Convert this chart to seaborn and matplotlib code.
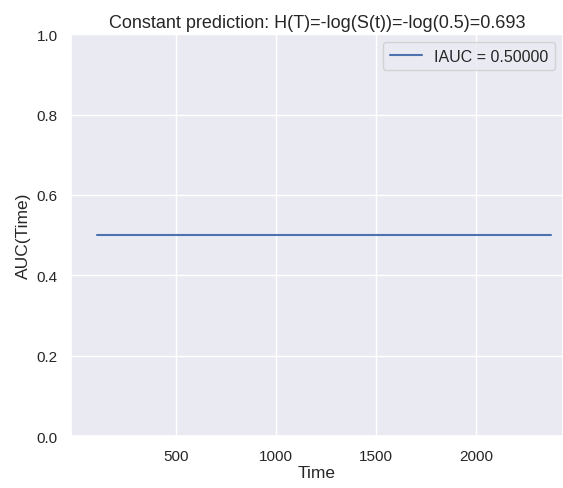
import matplotlib
matplotlib.use("Agg")
import matplotlib.pyplot as plt
import seaborn as sns
import pandas as pd

times = [105, 500, 1000, 1500, 2000, 2375]
auc_values = [0.5, 0.5, 0.5, 0.5, 0.5, 0.5]
iauc = 0.5
title = "Constant prediction: H(T)=-log(S(t))=-log(0.5)=0.693"

sns.set_theme(style="darkgrid")
plt.rcParams['font.family'] = ['Arial', 'Liberation Sans', 'DejaVu Sans']

fig = plt.figure(figsize=(5.63, 4.89), dpi=100)
ax = fig.add_axes([0.126, 0.106, 0.874, 0.822])
df = pd.DataFrame({"Time": times, "AUC": auc_values})
sns.lineplot(data=df, x="Time", y="AUC", ax=ax, label=f"IAUC = {iauc:.5f}")
ax.set_xlim(-25, 2435)
ax.set_ylim(0, 1.0)
ax.set_xticks([500, 1000, 1500, 2000])
ax.set_xlabel("Time", fontsize=12.5, labelpad=1)
ax.set_ylabel("AUC(Time)", fontsize=12.5, labelpad=4)
ax.tick_params(labelsize=11)
ax.set_title(title, fontsize=13, pad=5)
ax.legend(loc="upper right", fontsize=11.5)
fig.savefig("out.png", dpi=100)
